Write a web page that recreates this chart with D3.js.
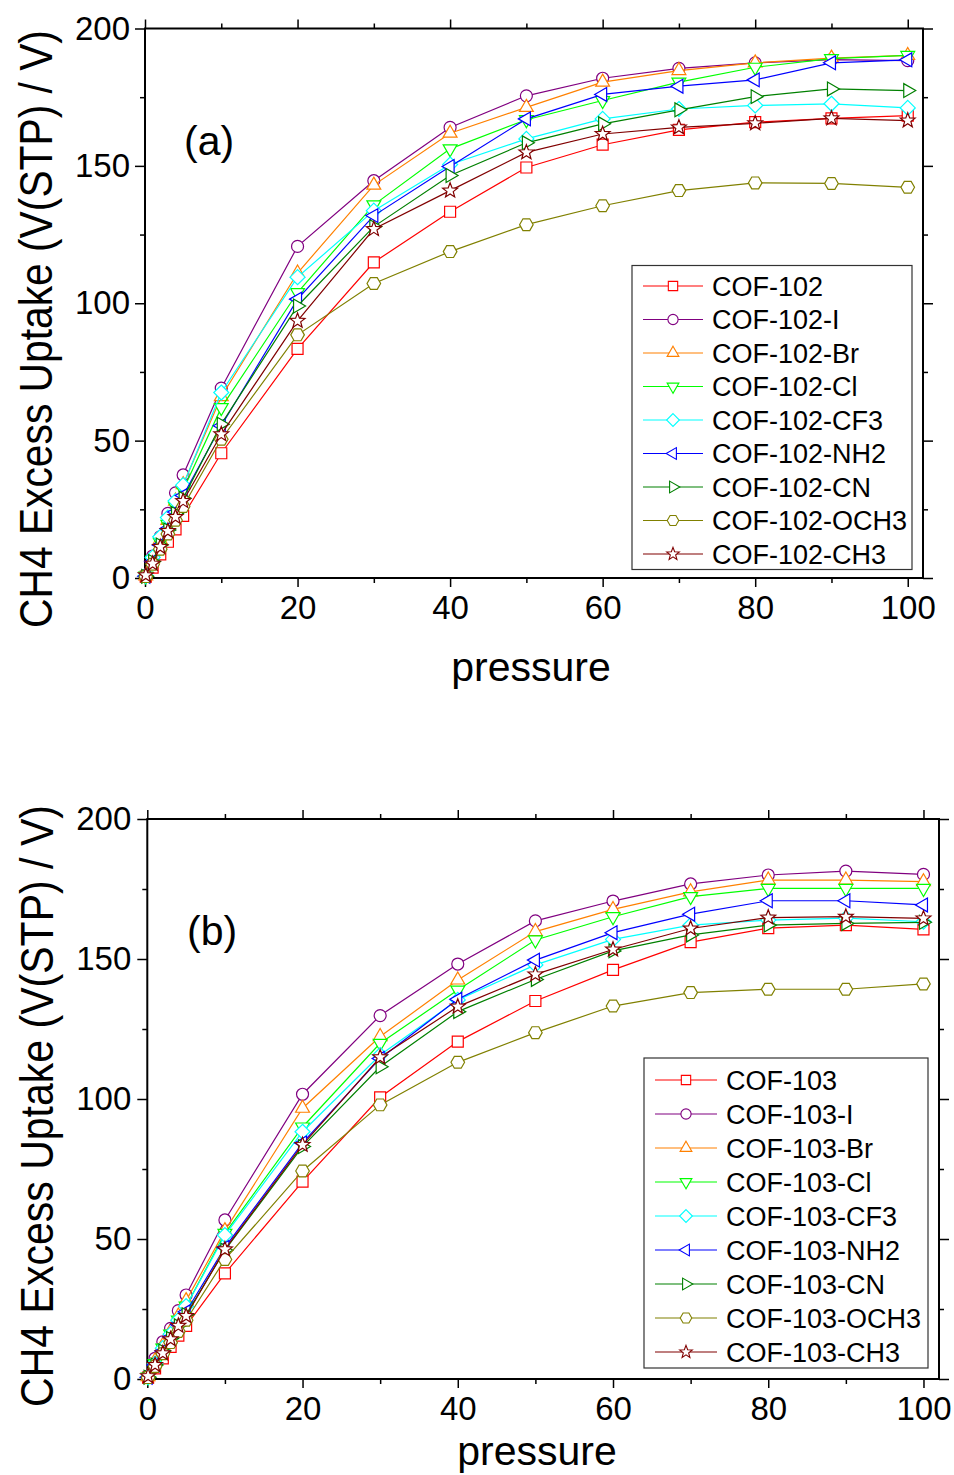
<!DOCTYPE html>
<html>
<head>
  <meta charset="utf-8">
  <title>CH4 uptake COF-102 / COF-103</title>
  <script src="https://d3js.org/d3.v7.min.js"></script>
  <style>
    body { margin: 0; background: white; }
    svg { display: block; font-family: "Liberation Sans", Arial, sans-serif; }
    .tick text { font-size: 33px; fill: black; }
    .tick line { stroke: black; stroke-width: 1.5px; }
  </style>
</head>
<body>
<svg id="chart" width="954" height="1475"></svg>
<script>
  // pressure points (shared by both panels)
  const pressure = [0.1, 1, 2, 3, 4, 5, 10, 20, 30, 40, 50, 60, 70, 80, 90, 100];

  // ----- panel (a): COF-102 family -----
  const cof102 = [0.5, 3.8, 8.6, 13.2, 17.7, 22.6, 45.4, 83.4, 114.9, 133.3, 149.4, 157.7, 163.1, 165.9, 167.3, 168.3];
  const cof102I = [1, 8, 15, 23.5, 31, 37.5, 69.1, 120.7, 144.6, 164, 175.5, 181.9, 185.5, 187.5, 188.7, 188.3];
  const cof102Br = [0.8, 7, 14, 21, 28, 34, 66, 111, 143, 161.9, 171.3, 180.5, 184.7, 187.5, 189.2, 190.2];
  const cof102Cl = [0.7, 6.5, 13, 19.5, 26, 32, 62, 103.9, 135.8, 156.2, 166.8, 173.8, 180.5, 185.9, 189, 190.2];
  const cof102CF3 = [0.8, 7.5, 15, 22, 28, 33.8, 67.5, 109.5, 133.7, 150.5, 159.8, 167.1, 170.7, 172, 172.6, 171.1];
  const cof102NH2 = [0.6, 6, 12, 18, 24, 30, 55.4, 101.5, 131.9, 149.8, 167.1, 176, 179, 181.3, 187.5, 188.6];
  const cof102CN = [0.6, 6, 12, 17.5, 23.5, 29, 56, 99, 127.9, 146.5, 158.4, 165.3, 170.4, 175.2, 178, 177.4];
  const cof102OCH3 = [0.5, 5, 10.5, 16, 21, 26, 50.5, 88.5, 107.2, 118.8, 128.6, 135.5, 141, 143.8, 143.6, 142.2];
  const cof102CH3 = [1, 5.2, 11.3, 17.1, 22.2, 28, 52.3, 93.6, 127, 141, 154.9, 161.6, 164, 165.5, 167.3, 166.5];

  // ----- panel (b): COF-103 family -----
  const cof103 = [0.5, 3.8, 7.4, 11.5, 15.5, 19, 37.7, 70.5, 100.6, 120.5, 135, 146.1, 156, 161, 162.1, 160.6];
  const cof103I = [1, 7.4, 13.3, 18.1, 24.4, 30, 56.8, 101.7, 129.8, 148.2, 163.6, 170.7, 176.8, 180, 181.4, 180.2];
  const cof103Br = [0.8, 6.5, 12, 17, 22.5, 28, 53, 96.7, 122.3, 142.5, 159.8, 167.7, 174, 178.2, 178.2, 177.6];
  const cof103Cl = [0.7, 5.5, 11, 16, 21, 26, 52, 90, 119.9, 138.9, 156.8, 165.1, 172.3, 175.2, 175.2, 175.2];
  const cof103CF3 = [0.7, 5.5, 11, 16, 21, 26, 51.4, 88.3, 115.7, 135.4, 147.9, 157, 162.1, 163.9, 164.6, 163.3];
  const cof103NH2 = [0.6, 5, 10, 15, 19.5, 24, 47, 84.3, 114.5, 135.6, 149.6, 159.4, 166, 170.8, 170.8, 169.3];
  const cof103CN = [0.6, 5, 10, 14.5, 19, 23, 46, 83, 111.5, 131.2, 142.7, 152.9, 158.6, 162.1, 162.7, 163.1];
  const cof103OCH3 = [0.5, 4.5, 9, 13, 17, 21, 42.7, 74.3, 97.9, 113.1, 123.7, 133.2, 138, 139.2, 139.2, 141.1];
  const cof103CH3 = [1, 5, 9.2, 14.2, 19, 22.5, 46.3, 83.6, 114.9, 133, 144.5, 153.4, 160.9, 164.8, 165.1, 164.5];

  const suffixes = ["", "-I", "-Br", "-Cl", "-CF3", "-NH2", "-CN", "-OCH3", "-CH3"];
  const colors = ["#ff0000", "#800080", "#ff8000", "#00ff00", "#00ffff", "#0000ff", "#008000", "#808000", "#800000"];
  const shapes = ["square", "circle", "triUp", "triDown", "diamond", "triLeft", "triRight", "hexagon", "star"];

  const xTicks = [0, 20, 40, 60, 80, 100];
  const xMinor = [10, 30, 50, 70, 90];
  const yTicks = [0, 50, 100, 150, 200];
  const yMinor = [25, 75, 125, 175];

  // marker paths, centred on 0,0
  function markerPath(shape) {
    const poly = pts => "M" + pts.map(p => p[0].toFixed(2) + "," + p[1].toFixed(2)).join("L") + "Z";
    const tri = (r, rot) => poly(d3.range(3).map(i => {
      const a = rot + i * 2 * Math.PI / 3;
      return [r * Math.cos(a), r * Math.sin(a)];
    }));
    switch (shape) {
      case "square": return poly([[-5.5, -5.5], [5.5, -5.5], [5.5, 5.5], [-5.5, 5.5]]);
      case "circle": return "M6,0A6,6 0 1,1 -6,0A6,6 0 1,1 6,0Z";
      case "triUp": return tri(8, -Math.PI / 2);
      case "triDown": return tri(8, Math.PI / 2);
      case "triLeft": return tri(8, Math.PI);
      case "triRight": return tri(8, 0);
      case "diamond": return poly([[0, -7.5], [7.5, 0], [0, 7.5], [-7.5, 0]]);
      case "hexagon": return poly(d3.range(6).map(i => [6.8 * Math.cos(i * Math.PI / 3), 6.8 * Math.sin(i * Math.PI / 3)]));
      case "star": return poly(d3.range(10).map(i => {
        const r = i % 2 === 0 ? 7.8 : 3.3;
        const a = -Math.PI / 2 + i * Math.PI / 5;
        return [r * Math.cos(a), r * Math.sin(a)];
      }));
    }
  }

  const svg = d3.select("#chart");

  function drawPanel(cfg) {
    const x = d3.scaleLinear().domain([0, 102]).range([cfg.left, cfg.right]);
    const y = d3.scaleLinear().domain([0, 200]).range([cfg.bottom, cfg.top]);
    const g = svg.append("g");

    // axes: all ticks point outward, mirrored on four sides
    const addAxis = (axis, tf) => {
      const a = g.append("g").attr("transform", tf).call(axis);
      a.select(".domain").remove();
      return a;
    };
    addAxis(d3.axisBottom(x).tickValues(xTicks).tickSize(9).tickPadding(9), `translate(0,${cfg.bottom})`);
    addAxis(d3.axisBottom(x).tickValues(xMinor).tickSize(5).tickFormat(""), `translate(0,${cfg.bottom})`);
    addAxis(d3.axisTop(x).tickValues(xTicks).tickSize(9).tickFormat(""), `translate(0,${cfg.top})`);
    addAxis(d3.axisTop(x).tickValues(xMinor).tickSize(5).tickFormat(""), `translate(0,${cfg.top})`);
    addAxis(d3.axisLeft(y).tickValues(yTicks).tickSize(10).tickPadding(cfg.yPad), `translate(${cfg.left},0)`);
    addAxis(d3.axisLeft(y).tickValues(yMinor).tickSize(5).tickFormat(""), `translate(${cfg.left},0)`);
    addAxis(d3.axisRight(y).tickValues(yTicks).tickSize(10).tickFormat(""), `translate(${cfg.right},0)`);
    addAxis(d3.axisRight(y).tickValues(yMinor).tickSize(5).tickFormat(""), `translate(${cfg.right},0)`);

    g.selectAll(".tick text").attr("font-family", null);

    g.append("rect")
      .attr("x", cfg.left).attr("y", cfg.top)
      .attr("width", cfg.right - cfg.left).attr("height", cfg.bottom - cfg.top)
      .attr("fill", "none").attr("stroke", "black").attr("stroke-width", 2);

    // series: line then hollow markers
    const line = d3.line().x((d, i) => x(pressure[i])).y(d => y(d));
    cfg.series.forEach((vals, s) => {
      g.append("path").datum(vals)
        .attr("d", line)
        .attr("fill", "none").attr("stroke", colors[s]).attr("stroke-width", 1.2);
      g.selectAll(null).data(vals).enter().append("path")
        .attr("transform", (d, i) => `translate(${x(pressure[i])},${y(d)})`)
        .attr("d", markerPath(shapes[s]))
        .attr("fill", "white").attr("stroke", colors[s]).attr("stroke-width", 1.2);
    });

    // legend
    const lg = cfg.legend;
    g.append("rect")
      .attr("x", lg.x0).attr("y", lg.y0)
      .attr("width", lg.x1 - lg.x0).attr("height", lg.y1 - lg.y0)
      .attr("fill", "white").attr("stroke", "#333").attr("stroke-width", 1.2);
    suffixes.forEach((suf, s) => {
      const ry = lg.row0 + s * lg.step;
      g.append("line")
        .attr("x1", lg.lineX0).attr("x2", lg.lineX1).attr("y1", ry).attr("y2", ry)
        .attr("stroke", colors[s]).attr("stroke-width", 1.2);
      g.append("path")
        .attr("transform", `translate(${(lg.lineX0 + lg.lineX1) / 2},${ry}) scale(0.85)`)
        .attr("d", markerPath(shapes[s]))
        .attr("fill", "white").attr("stroke", colors[s]).attr("stroke-width", 1.3);
      g.append("text")
        .attr("x", lg.textX).attr("y", ry).attr("dy", "0.36em")
        .attr("font-size", 27).text(cfg.name + suf);
    });

    // panel tag
    g.append("text").attr("x", cfg.tagX).attr("y", cfg.tagY)
      .attr("font-size", 41).text(cfg.tag);

    // y title: tall and condensed in the original, so squeeze it along its length
    const yt = g.append("text")
      .attr("text-anchor", "middle").attr("font-size", 47)
      .text("CH4 Excess Uptake (V(STP) / V)");
    const natural = yt.node().getComputedTextLength();
    const sx = cfg.yTitleLen / natural;
    yt.attr("transform", `translate(${cfg.yTitleX},${cfg.yTitleMid}) rotate(-90) scale(${sx},1)`);

    g.append("text")
      .attr("x", cfg.xTitleX).attr("y", cfg.xTitleY)
      .attr("text-anchor", "middle").attr("font-size", 41)
      .text("pressure");
  }

  drawPanel({
    left: 145, right: 923, top: 28.5, bottom: 578, yPad: 5,
    name: "COF-102", tag: "(a)", tagX: 184, tagY: 155,
    yTitleX: 52, yTitleMid: 329, yTitleLen: 598, xTitleX: 531, xTitleY: 681,
    series: [cof102, cof102I, cof102Br, cof102Cl, cof102CF3, cof102NH2, cof102CN, cof102OCH3, cof102CH3],
    legend: { x0: 632, y0: 265.5, x1: 912, y1: 569.5, lineX0: 643, lineX1: 703, textX: 712, row0: 286, step: 33.5 }
  });

  drawPanel({
    left: 147.3, right: 939, top: 819, bottom: 1379, yPad: 6,
    name: "COF-103", tag: "(b)", tagX: 187, tagY: 945,
    yTitleX: 53, yTitleMid: 1106, yTitleLen: 602, xTitleX: 537, xTitleY: 1465,
    series: [cof103, cof103I, cof103Br, cof103Cl, cof103CF3, cof103NH2, cof103CN, cof103OCH3, cof103CH3],
    legend: { x0: 644, y0: 1058, x1: 928, y1: 1368, lineX0: 655, lineX1: 717, textX: 726, row0: 1080, step: 34 }
  });
</script>
</body>
</html>
